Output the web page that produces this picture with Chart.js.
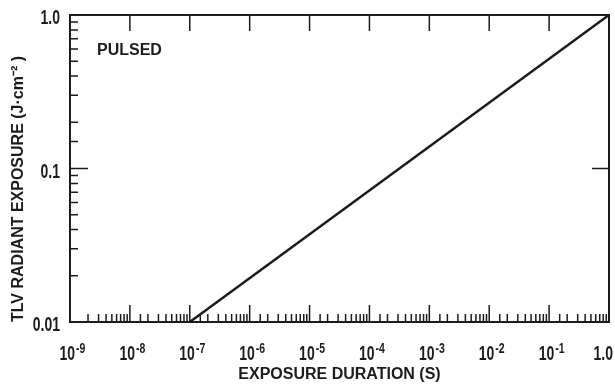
<!DOCTYPE html>
<html>
<head>
<meta charset="utf-8">
<script src="https://cdn.jsdelivr.net/npm/chart.js@4.4.1/dist/chart.umd.min.js"></script>
<style>
  html, body { margin: 0; padding: 0; background: #ffffff; }
</style>
</head>
<body>
<canvas id="chart-tlv" width="615" height="385"></canvas>
<script>
// TLV radiant exposure vs exposure duration (pulsed)
const exposureDuration = [1e-7, 1.0];
const tlvExposure = [0.01, 1.0];

const xTickExponents = [-9, -8, -7, -6, -5, -4, -3, -2, -1, 0];
const xTickBases = ['10', '10', '10', '10', '10', '10', '10', '10', '10', '1.0'];
const xTickPowers = ['-9', '-8', '-7', '-6', '-5', '-4', '-3', '-2', '-1', ''];
const yTickExponents = [-2, -1, 0];
const yTickLabels = ['0.01', '0.1', '1.0'];

const xTitle = 'EXPOSURE DURATION (S)';
const yTitle = 'TLV RADIANT EXPOSURE (J·cm⁻² )';
const curveNote = 'PULSED';

const INK = '#1c1c1c';
const FONT = "'Liberation Sans', Arial, sans-serif";
const SQUEEZE = 0.7; // lettering on the original is narrow

const decade = v => {
  const e = Math.log10(v);
  return Math.abs(e - Math.round(e)) < 1e-6 ? Math.round(e) : null;
};

function narrowWidth(ctx, text, size) {
  ctx.font = '600 ' + size + 'px ' + FONT;
  return ctx.measureText(text).width * SQUEEZE;
}
function narrowText(ctx, text, left, baseline, size) {
  ctx.save();
  ctx.font = '600 ' + size + 'px ' + FONT;
  ctx.translate(left, baseline);
  ctx.scale(SQUEEZE, 1);
  ctx.fillText(text, 0, 0);
  ctx.restore();
}

// frame, inward ticks and tick labels, placed from the scales' own ticks
const framePlugin = {
  id: 'frame',
  afterDraw(chart) {
    const { ctx, chartArea: a, scales: { x, y } } = chart;
    ctx.save();
    ctx.strokeStyle = INK;
    ctx.lineWidth = 2;
    ctx.strokeRect(a.left, a.top, a.right - a.left, a.bottom - a.top);
    ctx.lineWidth = 1.5;
    ctx.beginPath();
    x.ticks.forEach(t => {
      const px = x.getPixelForValue(t.value);
      const major = decade(t.value) !== null;
      ctx.moveTo(px, a.bottom);
      ctx.lineTo(px, a.bottom - (major ? 17 : 8));
      if (major) { ctx.moveTo(px, a.top); ctx.lineTo(px, a.top + 16); }
    });
    y.ticks.forEach(t => {
      const py = y.getPixelForValue(t.value);
      const major = decade(t.value) !== null;
      ctx.moveTo(a.left, py);
      ctx.lineTo(a.left + (major ? 18 : 8), py);
      if (major) { ctx.moveTo(a.right, py); ctx.lineTo(a.right - 17, py); }
    });
    ctx.stroke();

    ctx.fillStyle = INK;
    ctx.textBaseline = 'alphabetic';
    ctx.textAlign = 'left';
    xTickExponents.forEach((e, i) => {
      const px = x.getPixelForValue(Math.pow(10, e));
      const wb = narrowWidth(ctx, xTickBases[i], 20);
      const wp = narrowWidth(ctx, xTickPowers[i], 15);
      const left = Math.min(px + 2 - (wb + wp) / 2, 613 - wb - wp);
      narrowText(ctx, xTickBases[i], left, 360, 20);
      narrowText(ctx, xTickPowers[i], left + wb + 1, 353, 15);
    });
    yTickExponents.forEach((e, i) => {
      const py = y.getPixelForValue(Math.pow(10, e));
      const w = narrowWidth(ctx, yTickLabels[i], 20);
      narrowText(ctx, yTickLabels[i], a.left - 10 - w, py + 9, 20);
    });

    ctx.font = 'bold 16px ' + FONT;
    ctx.textBaseline = 'top';
    ctx.fillText(curveNote, a.left + 27, a.top + 28);
    ctx.restore();
  }
};

const tlvChart = new Chart(document.getElementById('chart-tlv'), {
  type: 'scatter',
  data: {
    datasets: [{
      label: curveNote,
      data: exposureDuration.map((d, i) => ({ x: d, y: tlvExposure[i] })),
      showLine: true,
      borderColor: INK,
      borderWidth: 2.5,
      pointRadius: 0,
      fill: false,
    }]
  },
  options: {
    responsive: false,
    animation: false,
    layout: { padding: { top: 15, right: 6, left: 0, bottom: 0 } },
    plugins: { legend: { display: false }, tooltip: { enabled: false } },
    scales: {
      x: {
        type: 'logarithmic',
        min: 1e-9, max: 1,
        grid: { display: false, drawTicks: false },
        border: { display: false },
        afterFit: s => { s.height = 63; s.paddingLeft = 0; s.paddingRight = 0; },
        ticks: { display: false, autoSkip: false },
        title: { display: true, text: xTitle, color: INK, padding: { bottom: 1 },
          font: { family: FONT, size: 16, weight: 'bold' } }
      },
      y: {
        type: 'logarithmic',
        min: 0.01, max: 1,
        grid: { display: false, drawTicks: false },
        border: { display: false },
        afterFit: s => { s.width = 70; s.paddingTop = 0; s.paddingBottom = 0; },
        ticks: { display: false, autoSkip: false },
        title: { display: true, text: yTitle, align: 'start', color: INK, padding: { top: 9 },
          font: { family: FONT, size: 16, weight: 'bold' } }
      }
    }
  },
  plugins: [framePlugin]
});
</script>
</body>
</html>
